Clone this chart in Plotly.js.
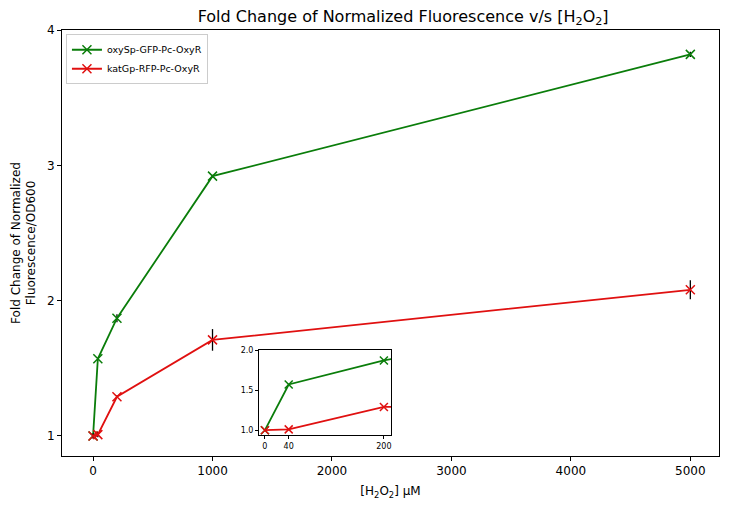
<!DOCTYPE html>
<html>
<head>
<meta charset="utf-8">
<script src="https://cdn.plot.ly/plotly-3.0.1.min.js"></script>
<style>html,body{margin:0;padding:0;background:#fff;}#chart{width:729px;height:510px;}</style>
</head>
<body>
<div id="chart"></div>
<script>
const concentrations = [0, 40, 200, 1000, 5000];
const greenValues = [1.0, 1.57, 1.87, 2.92, 3.82];
const greenErrors = [0.01, 0.01, 0.03, 0.01, 0.02];
const redValues = [1.0, 1.01, 1.29, 1.71, 2.08];
const redErrors = [0.02, 0.02, 0.01, 0.08, 0.07];
const seriesNames = ['oxySp-GFP-Pc-OxyR', 'katGp-RFP-Pc-OxyR'];
const mainTicks = [0, 1000, 2000, 3000, 4000, 5000];
const mainYTicks = [1, 2, 3, 4];
const insetXTicks = [0, 40, 200];
const insetYTicks = [1.0, 1.5, 2.0];

const GREEN = '#0a7d0a', RED = '#e01010';
const font = 'DejaVu Sans, sans-serif';

function trace(y, err, name, color, xa, ya, showleg, msize) {
  const t = {
    x: concentrations, y: y, name: name, type: 'scatter', mode: 'lines+markers',
    line: {color: color, width: 1.8},
    marker: {symbol: 'x-thin', size: msize, color: color, line: {color: color, width: 1.5}},
    xaxis: xa, yaxis: ya, showlegend: showleg
  };
  if (err) t.error_y = {type: 'data', array: err, visible: true, color: '#000', thickness: 1.3, width: 0};
  return t;
}

const data = [
  trace(greenValues, greenErrors, seriesNames[0], GREEN, 'x', 'y', true, 9),
  trace(redValues, redErrors, seriesNames[1], RED, 'x', 'y', true, 9),
  trace(greenValues, null, seriesNames[0], GREEN, 'x2', 'y2', false, 8),
  trace(redValues, null, seriesNames[1], RED, 'x2', 'y2', false, 8)
];

const axBase = {showline: true, mirror: true, linecolor: '#000', linewidth: 1, ticks: 'outside',
  ticklen: 4, tickcolor: '#000', showgrid: false, zeroline: false};

const layout = {
  width: 729, height: 510,
  margin: {l: 62, r: 10, t: 30, b: 54},
  paper_bgcolor: '#fff', plot_bgcolor: '#fff',
  font: {family: font, color: '#000'},
  title: {text: 'Fold Change of Normalized Fluorescence v/s [H<sub>2</sub>O<sub>2</sub>]',
    font: {size: 16, family: font}, x: 0.553, xanchor: 'center', y: 0.968, yanchor: 'middle'},
  xaxis: Object.assign({}, axBase, {range: [-260, 5240], tickvals: mainTicks, tickfont: {size: 12},
    title: {text: '[H<sub>2</sub>O<sub>2</sub>] μM', font: {size: 12}, standoff: 9}, domain: [0, 1]}),
  yaxis: Object.assign({}, axBase, {range: [0.852, 4.0], tickvals: mainYTicks, tickfont: {size: 12},
    title: {text: 'Fold Change of Normalized<br>Fluorescence/OD600', font: {size: 12}, standoff: 8}, domain: [0, 1]}),
  xaxis2: Object.assign({}, axBase, {range: [-10, 212], tickvals: insetXTicks, tickfont: {size: 8},
    anchor: 'y2', domain: [0.2998, 0.5008], ticklen: 3}),
  yaxis2: Object.assign({}, axBase, {range: [0.94, 2.0], tickvals: insetYTicks, ticktext: ['1.0','1.5','2.0'],
    tickfont: {size: 8}, anchor: 'x2', domain: [0.0493, 0.2488], ticklen: 3}),
  legend: {x: 0.006, y: 0.99, xanchor: 'left', yanchor: 'top', bgcolor: 'rgba(255,255,255,0.8)',
    bordercolor: '#ccc', borderwidth: 1, font: {size: 9.5, family: font}, tracegroupgap: 0, itemwidth: 30},
  showlegend: true
};

Plotly.newPlot('chart', data, layout, {staticPlot: true, displayModeBar: false});
</script>
</body>
</html>
